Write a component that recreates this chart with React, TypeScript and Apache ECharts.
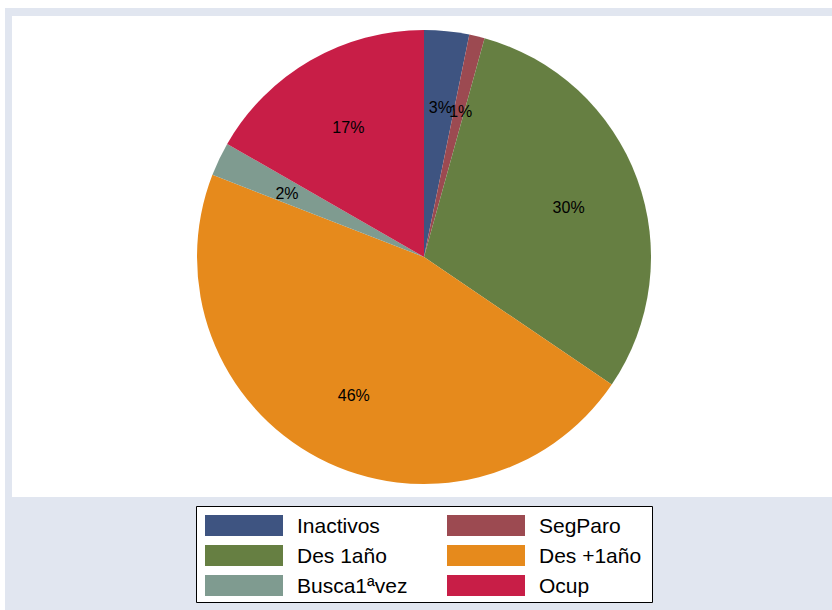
import React, { useEffect, useRef } from "react";
import * as echarts from "echarts";

const categories = ["Inactivos", "SegParo", "Des 1año", "Des +1año", "Busca1ªvez", "Ocup"];
const values = [3.2, 1.1, 30.2, 46.4, 2.4, 16.7];
const colors = ["#3E5481", "#9C4A51", "#667F42", "#E68A1C", "#7F9B90", "#C81E47"];
const legendLeftCol = ["Inactivos", "Des 1año", "Busca1ªvez"];
const legendRightCol = ["SegParo", "Des +1año", "Ocup"];

export default function App() {
  const ref = useRef<HTMLDivElement>(null);
  useEffect(() => {
    if (!ref.current) return;
    const chart = echarts.init(ref.current, null, { renderer: "svg" });
    const data = categories.map((name, i) => ({
      name,
      value: values[i],
      itemStyle: { color: colors[i] },
    }));
    const legendCommon = {
      orient: "vertical" as const,
      top: 507,
      itemWidth: 78,
      itemHeight: 21,
      itemGap: 9,
      icon: "rect",
      selectedMode: false,
      padding: 0,
      textStyle: {
        fontFamily: "Liberation Sans, Arial, sans-serif",
        fontSize: 21,
        color: "#000",
        padding: [0, 0, 0, 9],
      },
      z: 4,
    };
    chart.setOption({
      animation: false,
      backgroundColor: "#E1E6F0",
      graphic: [
        {
          type: "rect",
          z: 0,
          shape: { x: 7, y: 8, width: 830, height: 481 },
          style: { fill: "#FFFFFF" },
          silent: true,
        },
        {
          type: "rect",
          z: 0,
          shape: { x: 191.5, y: 498.5, width: 456, height: 96 },
          style: { fill: "#FFFFFF", stroke: "#000000", lineWidth: 1 },
          silent: true,
        },
      ],
      legend: [
        { ...legendCommon, left: 200, data: legendLeftCol },
        { ...legendCommon, left: 442, data: legendRightCol },
      ],
      series: [
        {
          type: "pie",
          z: 2,
          center: [419, 249],
          radius: [0, 227],
          startAngle: 90,
          clockwise: true,
          silent: true,
          data,
          label: { show: false },
          labelLine: { show: false },
          itemStyle: { borderWidth: 0 },
        },
        {
          type: "pie",
          z: 3,
          center: [419, 249],
          radius: [73, 227],
          startAngle: 90,
          clockwise: true,
          silent: true,
          avoidLabelOverlap: false,
          minShowLabelAngle: 0,
          data: categories.map((name, i) => ({ name, value: values[i] })),
          itemStyle: { color: "rgba(0,0,0,0)", borderWidth: 0 },
          labelLine: { show: false },
          labelLayout: { hideOverlap: false },
          label: {
            show: true,
            position: "inside",
            overflow: "none",
            offset: [1, 3],
            formatter: (p: any) => Math.round(p.percent) + "%",
            fontFamily: "Liberation Sans, Arial, sans-serif",
            fontSize: 16,
            color: "#000",
          },
        },
      ],
    });
    return () => chart.dispose();
  }, []);
  return (
    <div
      ref={ref}
      style={{ position: "absolute", left: 5, top: 8, width: 827, height: 602 }}
    />
  );
}
